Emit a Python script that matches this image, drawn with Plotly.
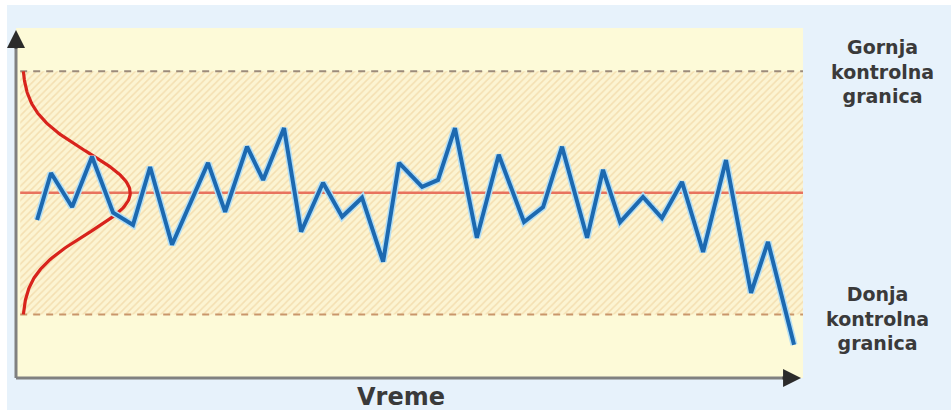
import numpy as np
import plotly.graph_objects as go

# ---- data ----
vreme = [0, 0.7, 1.76, 2.76, 3.82, 4.82, 5.68, 6.78, 8.59, 9.45, 10.55, 11.36,
         12.41, 13.27, 14.37, 15.33, 16.33, 17.39, 18.19, 19.35, 20.15, 21.0,
         22.1, 23.2, 24.47, 25.43, 26.38, 27.64, 28.44, 29.3, 30.45, 31.4,
         32.41, 33.47, 34.62, 35.88, 36.73, 38.04]
vrednost = [-0.67, 0.49, -0.35, 0.89, -0.49, -0.79, 0.64, -1.28, 0.74, -0.47,
            1.14, 0.32, 1.60, -0.96, 0.25, -0.59, -0.12, -1.70, 0.74, 0.15,
            0.32, 1.60, -1.11, 0.94, -0.72, -0.35, 1.14, -1.11, 0.57, -0.72,
            -0.10, -0.62, 0.27, -1.46, 0.81, -2.47, -1.21, -3.75]
srednja = 0.0
gornja_granica = 3.0
donja_granica = -3.0
sigma = 1.0
labels_gornja = ["Gornja", "kontrolna", "granica"]
labels_donja = ["Donja", "kontrolna", "granica"]
x_label = "Vreme"

X0, X1 = -1.06, 38.49
Y0, Y1 = -4.57, 4.07
xs = -0.85          # start of bands
bell_x0 = -0.75
bell_amp = 5.43

fig = go.Figure()

# hatched zone between control limits
fig.add_trace(go.Scatter(
    x=[xs, X1, X1, xs, xs],
    y=[donja_granica, donja_granica, gornja_granica, gornja_granica, donja_granica],
    mode="lines", line=dict(width=0), fill="toself",
    fillcolor="rgba(0,0,0,0)",
    fillpattern=dict(shape="/", fgcolor="#ebc98f", bgcolor="#fcf4d2",
                     size=5, solidity=0.3),
    hoverinfo="skip", showlegend=False))

# control limits
for lim, col in [(gornja_granica, "#9c8b7b"), (donja_granica, "#c9966b")]:
    fig.add_trace(go.Scatter(x=[xs, X1], y=[lim, lim], mode="lines",
                             line=dict(color=col, width=2, dash="7px,6px"),
                             hoverinfo="skip", showlegend=False))

# center line
fig.add_trace(go.Scatter(x=[xs, X1], y=[srednja, srednja], mode="lines",
                         line=dict(color="#e8735e", width=2.5),
                         hoverinfo="skip", showlegend=False))

# normal distribution curve (rotated)
yy = np.linspace(donja_granica, gornja_granica, 200)
xx = bell_x0 + bell_amp * np.exp(-((yy - srednja) / sigma) ** 2 / 2)
fig.add_trace(go.Scatter(x=xx, y=yy, mode="lines",
                         line=dict(color="#d8231c", width=3.2),
                         hoverinfo="skip", showlegend=False))

# process line (glow + line)
fig.add_trace(go.Scatter(x=vreme, y=vrednost, mode="lines",
                         line=dict(color="#b3def5", width=7),
                         hoverinfo="skip", showlegend=False))
fig.add_trace(go.Scatter(x=vreme, y=vrednost, mode="lines",
                         line=dict(color="#1c69b0", width=4),
                         hoverinfo="skip", showlegend=False))

shapes = [
    # white strips on top / left edge
    dict(type="rect", xref="paper", yref="paper", x0=-0.03, x1=1.2, y0=1.066, y1=1.1,
         fillcolor="white", line=dict(width=0), layer="below"),
    dict(type="rect", xref="paper", yref="paper", x0=-0.03, x1=-0.0114, y0=-0.2, y1=1.1,
         fillcolor="white", line=dict(width=0), layer="below"),
    # axes
    dict(type="line", xref="paper", yref="paper", x0=0, x1=0, y0=0, y1=0.96,
         line=dict(color="#808080", width=3)),
    dict(type="line", xref="paper", yref="paper", x0=0, x1=0.985, y0=0, y1=0,
         line=dict(color="#808080", width=3)),
]

lab_font = dict(family="DejaVu Sans", size=19, color="#3a3a3a", weight="bold")
annotations = [
    dict(xref="paper", yref="paper", x=0, y=0.994, ax=0, ay=20, showarrow=True,
         arrowhead=2, arrowsize=1.2, arrowwidth=3, arrowcolor="#2b2b2b", text="",
         standoff=0),
    dict(xref="paper", yref="paper", x=0.9975, y=0, ax=-20, ay=0, showarrow=True,
         arrowhead=2, arrowsize=1.2, arrowwidth=3, arrowcolor="#2b2b2b", text="",
         standoff=0),
    dict(xref="paper", yref="paper", x=1.1004, y=0.877, showarrow=False,
         xanchor="center", yanchor="middle",
         text="<br>".join(labels_gornja), align="center", font=lab_font),
    dict(xref="paper", yref="paper", x=1.095, y=0.171, showarrow=False,
         xanchor="center", yanchor="middle",
         text="<br>".join(labels_donja), align="center", font=lab_font),
    dict(xref="paper", yref="paper", x=0.489, y=-0.054, showarrow=False,
         xanchor="center", yanchor="middle",
         text=x_label,
         font=dict(family="DejaVu Sans", size=24, color="#3a3a3a", weight="bold")),
]

fig.update_layout(
    width=951, height=410,
    margin=dict(l=16, r=148, t=28, b=32),
    paper_bgcolor="#e7f2fb",
    plot_bgcolor="#fdfad8",
    xaxis=dict(range=[X0, X1], visible=False, fixedrange=True),
    yaxis=dict(range=[Y0, Y1], visible=False, fixedrange=True),
    shapes=shapes,
    annotations=annotations,
    showlegend=False,
)

fig.write_html("out.html", config={"displayModeBar": False},
               post_script="document.body.style.margin='0';document.body.style.overflow='hidden';")
